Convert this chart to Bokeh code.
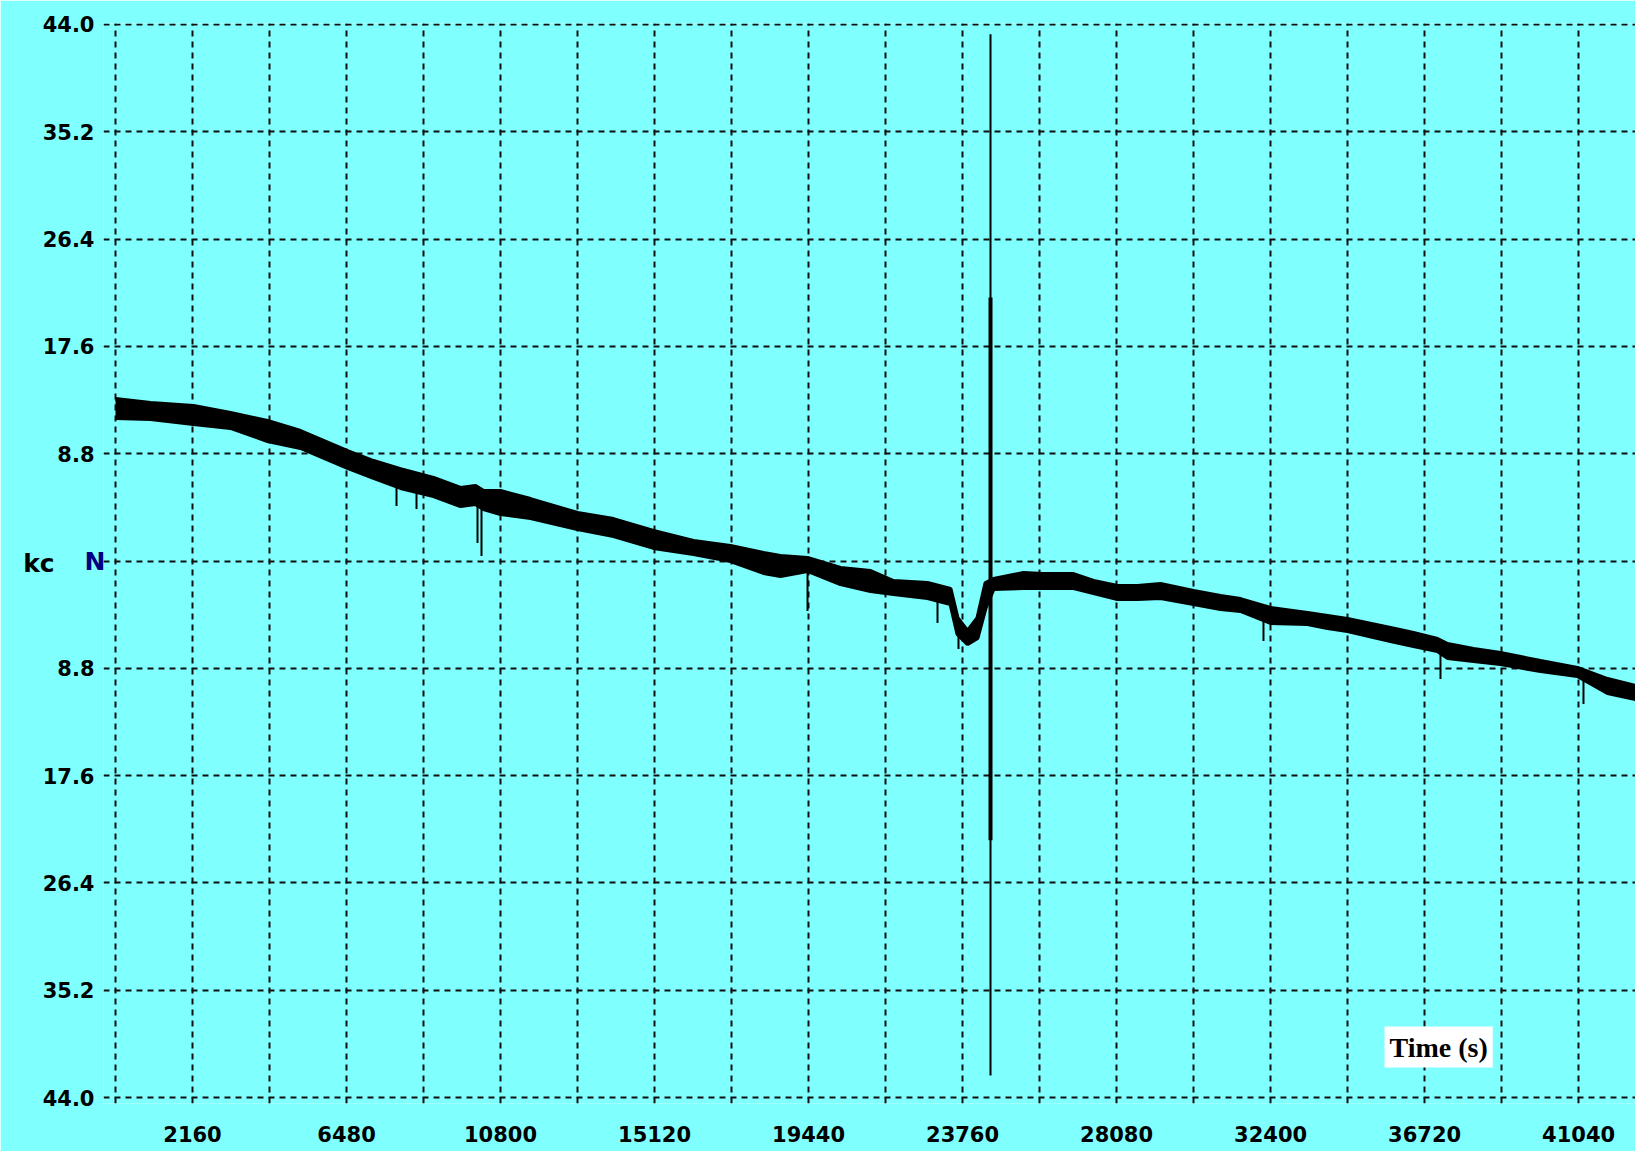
from bokeh.plotting import figure
from bokeh.models import FixedTicker, CustomJSTickFormatter, Label, Range1d, LinearAxis
from bokeh.embed import file_html
from bokeh.resources import INLINE

# ---- data (time in s, signal in kc) ----
time_s = [0, 982, 2188, 3226, 4264, 5189, 6508, 7237, 7994, 8920, 9677, 10098,
          10322, 10799, 11641, 12959, 13969, 15091, 16213, 17251, 18176, 18653,
          19411, 20336, 21178, 21823, 22777, 23422, 23618, 23899, 24179, 24404,
          24628, 25469, 26030, 26872, 27433, 28106, 28667, 29312, 30238, 30995,
          31556, 32398, 33436, 33997, 34558, 35764, 36409, 37082, 37363, 38092,
          38849, 39971, 41009, 41851, 42636]
band_upper = [13.29, 12.96, 12.71, 12.14, 11.48, 10.66, 9.02, 8.20, 7.54, 6.81, 5.99, 6.15,
              5.74, 5.74, 5.08, 3.94, 3.44, 2.46, 1.64, 1.23, 0.66, 0.41,
              0.25, -0.57, -0.82, -1.64, -1.80, -2.30, -4.67, -5.74, -4.67, -1.80,
              -1.48, -0.98, -1.07, -1.07, -1.64, -2.05, -2.05, -1.89, -2.46, -2.87,
              -3.12, -3.85, -4.26, -4.51, -4.76, -5.49, -5.90, -6.40, -6.81, -7.22,
              -7.54, -8.20, -8.77, -9.68, -10.25]
band_lower = [11.73, 11.65, 11.24, 10.91, 9.84, 9.27, 7.63, 6.81, 5.99, 5.33, 4.51, 4.67,
              4.26, 3.85, 3.53, 2.62, 2.05, 1.07, 0.57, 0.00, -0.98, -1.23,
              -0.82, -1.89, -2.46, -2.71, -3.03, -3.53, -5.99, -6.81, -6.31, -3.85,
              -2.30, -2.21, -2.21, -2.21, -2.62, -3.12, -3.12, -3.03, -3.53, -3.94,
              -4.10, -5.08, -5.17, -5.49, -5.74, -6.56, -6.97, -7.38, -7.95, -8.20,
              -8.45, -9.02, -9.43, -10.83, -11.32]

# short downward glitches
glitch_t = [7882, 8443, 10154, 10266, 19411, 23057, 23646, 32201, 37166, 41177]
glitch_from = [6.81, 6.31, 5.25, 5.25, -0.25, -2.46, -6.00, -4.43, -6.97, -9.19]
glitch_to = [4.51, 4.26, 1.48, 0.41, -4.10, -5.08, -7.22, -6.56, -9.68, -11.73]

# large transient
burst_t = [24544]
burst_full_top = [43.2]
burst_full_bottom = [-42.2]
burst_core_top = [21.6]
burst_core_bottom = [-22.9]

# axes
x_grid_values = [i * 2160 for i in range(0, 20)]
x_tick_values = [2160, 6480, 10800, 15120, 19440, 23760, 28080, 32400, 36720, 41040]
y_tick_values = [-44.0, -35.2, -26.4, -17.6, -8.8, 0.0, 8.8, 17.6, 26.4, 35.2, 44.0]
y_axis_unit = "kc"
y_zero_label = "N"
x_axis_title = "Time (s)"

BG = "#80ffff"
FONT = "DejaVu Sans"

p = figure(width=1635, height=1151,
           x_range=Range1d(-337, 42636), y_range=Range1d(-44.49, 44.08),
           output_backend="svg", toolbar_location=None,
           min_border_left=103, min_border_right=0,
           min_border_top=23, min_border_bottom=48)
p.background_fill_color = BG
p.border_fill_color = BG
p.outline_line_color = None

# grid
p.xgrid.ticker = FixedTicker(ticks=x_grid_values)
p.ygrid.ticker = FixedTicker(ticks=y_tick_values)
for g in (p.xgrid, p.ygrid):
    g.grid_line_color = "#101010"
    g.grid_line_width = 2
    g.grid_line_dash = "6 5"
    g.grid_line_alpha = 1.0

# axes
xa = p.xaxis[0]
xa.ticker = FixedTicker(ticks=x_tick_values)
ya = p.yaxis[0]
ya.ticker = FixedTicker(ticks=y_tick_values)
ya.formatter = CustomJSTickFormatter(code="""
    if (Math.abs(tick) < 1e-9) { return ""; }
    return Math.abs(tick).toFixed(1);
""")

# second left axis: zero marker "N" (navy) and the unit "kc"
ya2 = LinearAxis(ticker=FixedTicker(ticks=[0.0]),
                 formatter=CustomJSTickFormatter(args=dict(lbl=y_zero_label),
                                                 code="return lbl;"))
p.add_layout(ya2, "left")

for ax in (xa, ya, ya2):
    ax.axis_line_color = None
    ax.major_tick_line_color = None
    ax.minor_tick_line_color = None
    ax.major_tick_out = 0
    ax.major_tick_in = 0
    ax.major_label_text_font = FONT
    ax.major_label_text_font_style = "bold"
    ax.major_label_text_font_size = "21px"
    ax.major_label_text_color = "black"
xa.major_label_standoff = 22
ya.major_label_standoff = 9

ya2.major_label_text_color = "#000080"
ya2.major_label_text_font_size = "25px"
ya2.major_label_standoff = -66
ya2.axis_label = y_axis_unit
ya2.axis_label_orientation = "horizontal"
ya2.axis_label_standoff = 27
ya2.axis_label_text_font = FONT
ya2.axis_label_text_font_style = "bold"
ya2.axis_label_text_font_size = "25px"
ya2.axis_label_text_color = "black"

# trace
p.varea(x=time_s, y1=band_lower, y2=band_upper, fill_color="black")
p.line(x=time_s, y=band_upper, line_color="black", line_width=4)
p.line(x=time_s, y=band_lower, line_color="black", line_width=4)
p.segment(x0=glitch_t, y0=glitch_from, x1=glitch_t, y1=glitch_to,
          line_color="black", line_width=2)
p.segment(x0=burst_t, y0=burst_full_top, x1=burst_t, y1=burst_full_bottom,
          line_color="black", line_width=2)
p.segment(x0=burst_t, y0=burst_core_top, x1=burst_t, y1=burst_core_bottom,
          line_color="black", line_width=4)

# axis title box
p.add_layout(Label(x=35596, y=-39.86, text=x_axis_title, text_align="left",
                   text_baseline="middle", text_font="Liberation Serif",
                   text_font_style="bold", text_font_size="28px", text_color="black",
                   background_fill_color="white", padding=5))

open("out.html", "w").write(file_html(p, INLINE))
